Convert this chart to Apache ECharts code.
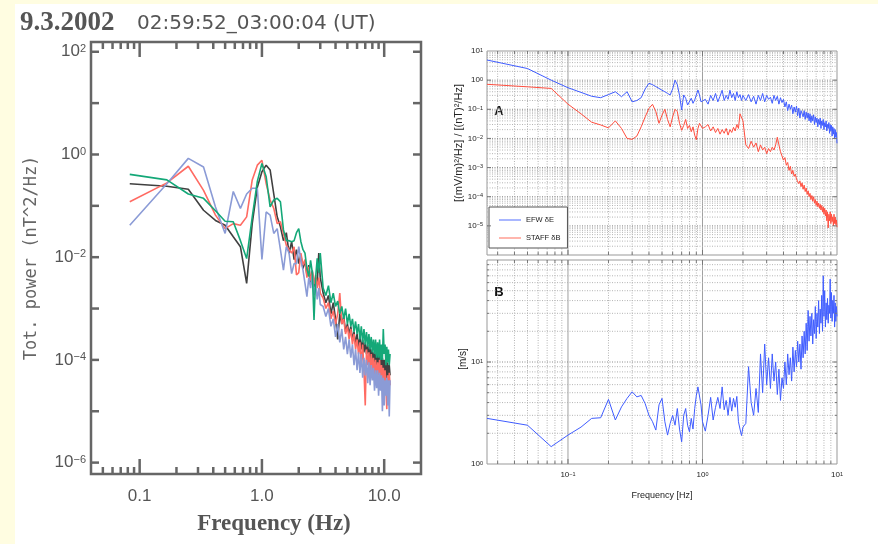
<!DOCTYPE html>
<html><head><meta charset="utf-8">
<script src="https://cdn.jsdelivr.net/npm/echarts@6/dist/echarts.min.js"></script>
<style>
html,body{margin:0;padding:0;background:#fffde1;}
#bg{position:absolute;left:15px;top:4px;width:863px;height:540px;background:#ffffff;}
#chart{position:absolute;left:0;top:0;width:878px;height:544px;}
</style></head><body><div id="bg"></div><div id="chart"></div>
<script>
// ---------- LEFT PANEL DATA (Hz, nT^2/Hz) ----------
const leftFreq = [
0.083,0.167,0.25,0.333,0.417,0.5,0.583,0.667,0.75,0.833,0.917,1.0,
1.083,1.167,1.25,1.333,1.417,1.5,1.583,1.667,1.75,1.833,1.917,2.0,
2.083,2.167,2.25,2.333,2.417,2.5,2.583,2.667,2.75,2.833,2.917,3.0,
3.167,3.333,3.5,3.667,3.833,4.0,4.167,4.333,4.5,4.667,4.833,5.0,
5.167,5.333,5.5,5.667,5.833,6.0,6.167,6.333,6.5,6.667,6.833,7.0,
7.167,7.333,7.5,7.667,7.833,8.0,8.167,8.333,8.5,8.667,8.833,9.0,
9.167,9.333,9.5,9.667,9.833,10.0,10.167,10.333,10.5,10.667,10.833,11.0,11.167];
const blackP = [
0.27,0.24,0.21,0.082,0.052,0.042,0.025,0.016,0.0031,0.045,0.23,0.46,
0.62,0.5,0.17,0.061,0.039,0.021,0.03,0.012,0.02,0.009,0.014,0.0075,
0.011,0.006,0.0085,0.0045,0.007,0.0032,0.0055,0.0026,0.004,0.003,0.012,0.004,
2e-3,1.3e-3,1.8e-3,7.9e-4,1.3e-3,6.3e-4,2.5e-4,7.9e-4,5e-4,7e-4,3.5e-4,5e-4,
3.2e-4,4.5e-4,2.5e-4,3.5e-4,2e-4,3.2e-4,1.8e-4,2.8e-4,1.6e-4,2.5e-4,1.4e-4,2.2e-4,
1.3e-4,2e-4,1.1e-4,1.8e-4,1e-4,1.6e-4,9e-5,1.4e-4,7.9e-5,1.4e-4,7e-5,1.3e-4,
6.3e-5,1.3e-4,5.6e-5,1.1e-4,5e-5,1e-4,4.5e-5,1e-4,4e-5,9e-5,4e-5,7.9e-5,5e-5];
const redP = [
0.12,0.28,0.59,0.2,0.066,0.036,0.045,0.042,0.061,0.32,0.62,0.77,
0.27,0.13,0.089,0.045,0.049,0.029,0.017,0.014,0.012,0.016,0.0045,0.005,
0.012,0.007,0.009,0.004,0.0065,0.0035,0.005,0.003,0.0045,0.0025,0.004,0.002,
1.6e-3,1e-3,1.3e-3,6.3e-4,9e-4,5e-4,7.9e-4,2e-3,5e-4,6.3e-4,3.2e-4,4.5e-4,
2.5e-4,4e-4,2e-4,3.2e-4,1.6e-4,2.5e-4,1.3e-4,2.2e-4,7.9e-5,2e-4,6.3e-5,1.3e-5,
1.6e-4,7.9e-5,1.4e-4,5e-5,1.3e-4,6.3e-5,1.1e-4,4e-5,1e-4,3.2e-5,9e-5,5e-5,
1e-4,3.2e-5,7.9e-5,4e-5,7e-5,2.5e-5,6.3e-5,3.2e-5,1.1e-5,5e-5,2.5e-5,5.6e-5,3.2e-5];
const blueP = [
0.042,0.27,0.84,0.57,0.095,0.029,0.19,0.089,0.17,0.22,0.22,0.009,
0.076,0.066,0.029,0.036,0.014,0.0056,0.016,0.012,0.0048,0.0075,0.0075,0.016,
0.0087,0.0056,0.0031,0.0017,0.004,0.0025,0.0045,0.0018,0.003,0.0015,0.0025,0.0012,
1.1e-3,7e-4,1e-3,4.5e-4,6.3e-4,2.8e-4,5e-4,2.2e-4,4e-4,1.6e-4,2.8e-4,1.3e-4,
2.5e-4,1.1e-4,2e-4,7.9e-5,1.6e-4,6.3e-5,1.4e-4,5.6e-5,1.3e-4,4.5e-5,1.1e-4,5e-5,
1e-4,3.5e-5,9e-5,3.2e-5,7.9e-5,4e-5,7e-5,2.5e-5,6.3e-5,2.8e-5,6.3e-5,2e-5,
5.6e-5,2.5e-5,5e-5,1e-5,4.5e-5,1.3e-5,4e-5,2e-5,4.5e-5,1.3e-5,4e-5,7.9e-6,4e-5];
const greenP = [
0.41,0.32,0.17,0.14,0.08,0.05,0.049,0.021,0.0094,0.06,0.3,0.67,
0.37,0.095,0.13,0.14,0.12,0.034,0.021,0.021,0.02,0.021,0.03,0.036,
0.02,0.014,0.012,0.006,0.0042,0.0087,0.005,0.0006,0.004,0.0095,0.005,0.012,
2.5e-3,1.8e-3,2.8e-3,1.3e-3,2e-3,1.1e-3,1.4e-3,7.9e-4,1.1e-3,6.3e-4,1e-3,5e-4,
7.9e-4,4.5e-4,6.3e-4,3.5e-4,5.6e-4,3.2e-4,5e-4,2.5e-4,4.5e-4,2.2e-4,4e-4,2e-4,
3.5e-4,1.8e-4,3.2e-4,1.6e-4,2.8e-4,1.4e-4,2.5e-4,1.3e-4,2.5e-4,1.1e-4,2.2e-4,1.1e-4,
2.5e-4,1e-4,2e-4,1e-4,4e-4,1.3e-4,2e-4,7.9e-5,1.8e-4,9e-5,1.6e-4,7.9e-5,1.3e-4];

// ---------- RIGHT PANELS DATA ----------
const rightFreq = [
0.025,0.05,0.075,0.1,0.125,0.15,0.175,0.2,0.225,0.25,
0.275,0.3,0.325,0.35,0.375,0.4,0.425,0.45,0.475,0.5,
0.525,0.55,0.575,0.6,0.625,0.65,0.675,0.7,0.725,0.75,
0.775,0.8,0.825,0.85,0.875,0.9,0.925,0.95,0.975,1.0,
1.05,1.1,1.15,1.2,1.25,1.3,1.35,1.4,1.45,1.5,
1.55,1.6,1.65,1.7,1.75,1.8,1.85,1.9,1.95,2.0,
2.1,2.2,2.3,2.4,2.5,2.6,2.7,2.8,2.9,3.0,
3.1,3.2,3.3,3.4,3.5,3.6,3.7,3.8,3.9,4.0,
4.1,4.2,4.3,4.4,4.5,4.6,4.7,4.8,4.9,5.0,
5.1,5.2,5.3,5.4,5.5,5.6,5.7,5.8,5.9,6.0,
6.1,6.2,6.3,6.4,6.5,6.6,6.7,6.8,6.9,7.0,
7.1,7.2,7.3,7.4,7.5,7.6,7.7,7.8,7.9,8.0,
8.1,8.2,8.3,8.4,8.5,8.6,8.7,8.8,8.9,9.0,
9.1,9.2,9.3,9.4,9.5,9.6,9.7,9.8,9.9,10.0];
const efwE = [
4.9,2.5,1.0,0.55,0.38,0.28,0.25,0.32,0.4,0.27,
0.4,0.18,0.2,0.25,0.5,0.78,0.7,0.6,0.52,0.45,
0.4,0.35,0.31,0.5,1.0,0.7,0.3,0.094,0.31,0.24,
0.14,0.16,0.24,0.16,0.21,0.31,0.46,0.31,0.18,0.16,
0.22,0.15,0.3,0.2,0.35,0.18,0.28,0.45,0.2,0.3,
0.22,0.45,0.25,0.35,0.2,0.4,0.25,0.32,0.2,0.3,
0.2,0.32,0.18,0.28,0.15,0.3,0.2,0.35,0.18,0.3,
0.22,0.26,0.16,0.3,0.2,0.28,0.15,0.25,0.17,0.22,
0.12,0.18,0.09,0.15,0.1,0.14,0.07,0.12,0.08,0.13,
0.06,0.11,0.05,0.09,0.1,0.055,0.09,0.045,0.08,0.05,
0.075,0.04,0.07,0.035,0.06,0.04,0.065,0.03,0.055,0.035,
0.05,0.025,0.045,0.03,0.05,0.022,0.04,0.028,0.045,0.02,
0.035,0.025,0.04,0.018,0.03,0.022,0.035,0.015,0.03,0.018,
0.028,0.012,0.025,0.014,0.022,0.01,0.02,0.011,0.016,0.0068];
const staffB = [
0.72,0.59,0.52,0.15,0.07,0.036,0.029,0.023,0.04,0.022,
0.01,0.0093,0.012,0.025,0.055,0.107,0.148,0.083,0.033,0.063,
0.1,0.045,0.025,0.055,0.1,0.083,0.033,0.019,0.028,0.045,
0.022,0.028,0.017,0.025,0.013,0.009,0.022,0.033,0.036,0.022,
0.025,0.03,0.018,0.025,0.016,0.022,0.014,0.02,0.015,0.022,
0.013,0.02,0.016,0.024,0.018,0.03,0.022,0.07,0.075,0.04,
0.006,0.0045,0.008,0.005,0.007,0.0035,0.006,0.004,0.005,0.003,
0.0045,0.0035,0.005,0.004,0.006,0.011,0.006,0.0035,0.0025,0.0018,
0.0022,0.0012,0.0015,0.0008,0.0011,0.0006,0.0008,0.0005,0.0006,0.0004,
0.00045,0.00028,0.00035,0.00022,0.0003,0.00018,0.00025,0.00015,0.0002,0.00012,
0.00016,0.0001,0.00013,0.00008,0.00011,0.00007,0.0001,0.00006,0.00008,0.00005,
0.00007,0.000045,0.00006,0.00004,0.000055,0.000035,0.00005,0.00003,0.000045,0.000025,
0.00004,0.000022,0.000035,0.000015,0.00003,0.0000085,0.000025,0.000015,0.00003,0.000012,
0.000025,0.000014,0.00002,0.00001,0.000025,0.000012,0.00002,0.000011,0.000016,0.000009];
const velB = [
2.8,2.4,1.48,1.92,2.3,2.8,2.84,4.3,2.7,3.63,
4.4,5.1,4.55,4.7,3.9,3.0,2.6,2.15,3.8,4.4,
2.6,1.92,2.5,3.0,2.4,3.5,2.2,1.65,3.0,3.5,
2.4,2.07,2.8,2.2,3.5,4.7,5.7,5.9,3.8,2.6,
2.1,3.0,4.5,2.7,3.6,4.5,3.5,5.7,3.4,4.2,
3.0,4.5,3.3,4.4,3.6,4.6,2.6,2.2,1.9,2.3,
2.5,9.0,4.0,3.0,5.5,3.2,12,5.0,15,6.0,
11,5.5,12,6.5,10,4.8,8.5,4.2,7,5.5,
10,6,12,7.5,11,6.5,14,8,13,9,
16,10,15,8.5,18,11,20,12,24,13,
32,16,28,18,30,15,26,19,35,17,
30,22,40,19,33,24,45,20,70,28,
50,22,38,26,42,24,36,30,65,27,
48,25,40,30,45,22,38,25,35,28];

// ---------- TICK LABELS ----------
const leftXTickVals = [0.1, 1, 10];
const leftXTickLabels = ['0.1', '1.0', '10.0'];
const leftYLabelExps = [2, 0, -2, -4, -6];
const aYLabelExps = [1, 0, -1, -2, -3, -4, -5];
const bYLabelExps = [0, 1];
const bXLabelExps = [-1, 0, 1];

function logExp(v){ const l = Math.log10(v); const e = Math.round(l); return Math.abs(l - e) < 1e-6 ? e : null; }
function supFmt(exps){
  return function(v){
    const e = logExp(v);
    if (e === null || exps.indexOf(e) < 0) return '';
    return '{b|10}{s|' + (e < 0 ? '\u2212' + (-e) : String(e)) + '}';
  };
}
function decadeMinors(lo, hi){
  const out = [];
  for (let k = -7; k <= 3; k++) for (let m = 2; m <= 9; m++) {
    const v = m * Math.pow(10, k);
    if (v > lo * 1.0001 && v < hi * 0.9999) out.push(v);
  }
  return out;
}
function decades(lo, hi){
  const out = [];
  for (let k = -7; k <= 3; k++) { const v = Math.pow(10, k); if (v >= lo * 0.9999 && v <= hi * 1.0001) out.push(v); }
  return out;
}
function lineSeries(gi, dir, vals, ref, style, len, z){
  return {
    type: 'custom', xAxisIndex: gi, yAxisIndex: gi, silent: true, clip: false, z: z,
    data: vals.map(v => dir === 'v' ? [v, ref] : [ref, v]),
    renderItem: function(params, api){
      const cs = params.coordSys;
      const p = api.coord([api.value(0), api.value(1)]);
      const kids = [];
      const st = () => Object.assign({}, style);
      if (dir === 'v') {
        const x = p[0];
        if (!len) kids.push({type:'line', shape:{x1:x, y1:cs.y, x2:x, y2:cs.y + cs.height}, style: st()});
        else {
          kids.push({type:'line', shape:{x1:x, y1:cs.y + cs.height, x2:x, y2:cs.y + cs.height - len}, style: st()});
          kids.push({type:'line', shape:{x1:x, y1:cs.y, x2:x, y2:cs.y + len}, style: st()});
        }
      } else {
        const y = p[1];
        if (!len) kids.push({type:'line', shape:{x1:cs.x, y1:y, x2:cs.x + cs.width, y2:y}, style: st()});
        else {
          kids.push({type:'line', shape:{x1:cs.x, y1:y, x2:cs.x + len, y2:y}, style: st()});
          kids.push({type:'line', shape:{x1:cs.x + cs.width, y1:y, x2:cs.x + cs.width - len, y2:y}, style: st()});
        }
      }
      return {type: 'group', children: kids};
    }
  };
}
function zip(xs, ys){ return xs.map((x, i) => [x, ys[i]]); }

const chart = echarts.init(document.getElementById('chart'), null, {renderer: 'canvas'});

const richL = {
  b: {fontSize: 17, fontFamily: 'Liberation Sans', color: '#555'},
  s: {fontSize: 11, fontFamily: 'Liberation Sans', color: '#555', verticalAlign: 'top'}
};
const richR = {
  b: {fontSize: 8, fontFamily: 'Liberation Sans', color: '#222'},
  s: {fontSize: 5.5, fontFamily: 'Liberation Sans', color: '#222', verticalAlign: 'top'}
};
const hidden = {axisLine:{show:false}, axisTick:{show:false}, splitLine:{show:false}};

const tickStyleL = {stroke: '#666', lineWidth: 2.5};
const tickStyleR = {stroke: '#777', lineWidth: 1};
const gridMinor = {stroke: '#b4b4b4', lineWidth: 1, lineDash: [1, 1.5]};
const gridMajorH = {stroke: '#8c8c8c', lineWidth: 1, lineDash: [1, 1.5]};
const gridMajorV = {stroke: '#a0a0a0', lineWidth: 1};

const rightXMinor = decadeMinors(0.025, 10);
const leftXMinor = decadeMinors(0.04, 20);

const option = {
  animation: false,
  backgroundColor: 'transparent',
  grid: [
    {left: 91, top: 42, width: 330, height: 432, show: true, borderColor: '#666', borderWidth: 2.5, backgroundColor: 'transparent'},
    {left: 487, top: 51, width: 350, height: 204, show: true, borderColor: '#999', borderWidth: 1, backgroundColor: 'transparent'},
    {left: 487, top: 260, width: 350, height: 204, show: true, borderColor: '#999', borderWidth: 1, backgroundColor: 'transparent'}
  ],
  xAxis: [
    Object.assign({type: 'log', gridIndex: 0, min: 0.04, max: 20,
      axisLabel: {margin: 14, fontSize: 17, fontFamily: 'Liberation Sans', color: '#555',
        formatter: function(v){ for (let i = 0; i < leftXTickVals.length; i++) if (Math.abs(v / leftXTickVals[i] - 1) < 1e-6) return leftXTickLabels[i]; return ''; }}}, hidden),
    Object.assign({type: 'log', gridIndex: 1, min: 0.025, max: 10, axisLabel: {show: false}}, hidden),
    Object.assign({type: 'log', gridIndex: 2, min: 0.025, max: 10,
      axisLabel: {margin: 7, formatter: supFmt(bXLabelExps), rich: richR}}, hidden)
  ],
  yAxis: [
    Object.assign({type: 'log', gridIndex: 0, min: 6.0e-7, max: 155,
      axisLabel: {margin: 5, formatter: supFmt(leftYLabelExps), rich: richL}}, hidden),
    Object.assign({type: 'log', gridIndex: 1, min: 1e-6, max: 10,
      axisLabel: {margin: 4, formatter: supFmt(aYLabelExps), rich: richR}}, hidden),
    Object.assign({type: 'log', gridIndex: 2, min: 1, max: 100,
      axisLabel: {margin: 4, formatter: supFmt(bYLabelExps), rich: richR}}, hidden)
  ],
  legend: {
    data: ['EFW \u03b4E', 'STAFF \u03b4B'], orient: 'vertical', left: 489, top: 207,
    icon: 'rect', itemWidth: 22, itemHeight: 1.2, itemGap: 10, padding: [9, 7, 6, 10],
    borderColor: '#555', borderWidth: 1, backgroundColor: '#fff',
    textStyle: {fontSize: 7.5, color: '#222', fontFamily: 'Liberation Sans'}
  },
  graphic: [
    {type: 'text', x: 20, y: 23, style: {text: '9.3.2002', font: 'bold 27px "Liberation Serif"', fill: '#555', textVerticalAlign: 'middle'}},
    {type: 'text', x: 137, y: 24, style: {text: '02:59:52_03:00:04 (UT)', font: '20px "DejaVu Sans"', fill: '#555', textVerticalAlign: 'middle'}},
    {type: 'text', x: 274, y: 524, style: {text: 'Frequency (Hz)', font: 'bold 23px "Liberation Serif"', fill: '#555', textAlign: 'center', textVerticalAlign: 'middle'}},
    {type: 'text', x: 32, y: 258, rotation: Math.PI / 2, style: {text: 'Tot. power (nT^2/Hz)', font: '17px "DejaVu Sans Mono"', fill: '#666', textAlign: 'center', textVerticalAlign: 'middle'}},
    {type: 'text', x: 459, y: 143, rotation: Math.PI / 2, style: {text: '[(mV/m)\u00b2/Hz] / [(nT)\u00b2/Hz]', font: '11px "Liberation Sans"', fill: '#222', textAlign: 'center', textVerticalAlign: 'middle'}},
    {type: 'text', x: 463, y: 359, rotation: Math.PI / 2, style: {text: '[m/s]', font: '10px "Liberation Sans"', fill: '#222', textAlign: 'center', textVerticalAlign: 'middle'}},
    {type: 'text', x: 662, y: 496, style: {text: 'Frequency [Hz]', font: '9px "Liberation Sans"', fill: '#222', textAlign: 'center', textVerticalAlign: 'middle'}},
    {type: 'text', x: 499, y: 111, style: {text: 'A', font: 'bold 13px "Liberation Sans"', fill: '#111', textAlign: 'center', textVerticalAlign: 'middle'}},
    {type: 'text', x: 499, y: 292, style: {text: 'B', font: 'bold 13px "Liberation Sans"', fill: '#111', textAlign: 'center', textVerticalAlign: 'middle'}}
  ],
  series: [
    // left panel ticks
    lineSeries(0, 'v', leftXTickVals, 1, tickStyleL, 15, 10),
    lineSeries(0, 'v', leftXMinor, 1, tickStyleL, 7, 10),
    lineSeries(0, 'h', decades(1e-6, 100), 1, tickStyleL, 8, 10),
    // left panel data
    {type: 'line', name: 'black', xAxisIndex: 0, yAxisIndex: 0, data: zip(leftFreq, blackP), symbol: 'none', lineStyle: {color: '#404040', width: 1.6}, z: 3},
    {type: 'line', name: 'red', xAxisIndex: 0, yAxisIndex: 0, data: zip(leftFreq, redP), symbol: 'none', lineStyle: {color: '#ff6b63', width: 1.6}, z: 3},
    {type: 'line', name: 'blue', xAxisIndex: 0, yAxisIndex: 0, data: zip(leftFreq, blueP), symbol: 'none', lineStyle: {color: '#8b9bd6', width: 1.6}, z: 3},
    {type: 'line', name: 'green', xAxisIndex: 0, yAxisIndex: 0, data: zip(leftFreq, greenP), symbol: 'none', lineStyle: {color: '#14a878', width: 1.6}, z: 3},
    // panel A grid
    lineSeries(1, 'v', rightXMinor, 1, gridMinor, 0, 1),
    lineSeries(1, 'v', [0.1, 1], 1, gridMajorV, 0, 1),
    lineSeries(1, 'h', decadeMinors(1e-6, 10), 1, gridMinor, 0, 1),
    lineSeries(1, 'h', decades(1e-5, 1), 1, gridMajorH, 0, 1),
    lineSeries(1, 'v', rightXMinor, 1, tickStyleR, 3, 4),
    lineSeries(1, 'v', [0.1, 1], 1, tickStyleR, 5, 4),
    lineSeries(1, 'h', decades(1e-5, 1), 1, tickStyleR, 4, 4),
    // panel B grid
    lineSeries(2, 'v', rightXMinor, 10, gridMinor, 0, 1),
    lineSeries(2, 'v', [0.1, 1], 10, gridMajorV, 0, 1),
    lineSeries(2, 'h', decadeMinors(1, 100), 1, gridMinor, 0, 1),
    lineSeries(2, 'h', [10], 1, gridMajorH, 0, 1),
    lineSeries(2, 'v', rightXMinor, 10, tickStyleR, 3, 4),
    lineSeries(2, 'v', [0.1, 1], 10, tickStyleR, 5, 4),
    lineSeries(2, 'h', decadeMinors(1, 100), 1, tickStyleR, 2, 4),
    lineSeries(2, 'h', [10], 1, tickStyleR, 4, 4),
    // right data
    {type: 'line', name: 'EFW \u03b4E', xAxisIndex: 1, yAxisIndex: 1, data: zip(rightFreq, efwE), symbol: 'none', lineStyle: {color: '#3f5cff', width: 1}, itemStyle: {color: '#6f86ff'}, z: 3},
    {type: 'line', name: 'STAFF \u03b4B', xAxisIndex: 1, yAxisIndex: 1, data: zip(rightFreq, staffB), symbol: 'none', lineStyle: {color: '#ff4d3d', width: 1}, itemStyle: {color: '#ff8577'}, z: 3},
    {type: 'line', name: 'B', xAxisIndex: 2, yAxisIndex: 2, data: zip(rightFreq, velB), symbol: 'none', lineStyle: {color: '#3f5cff', width: 1}, z: 3}
  ]
};
chart.setOption(option);
</script></body></html>
